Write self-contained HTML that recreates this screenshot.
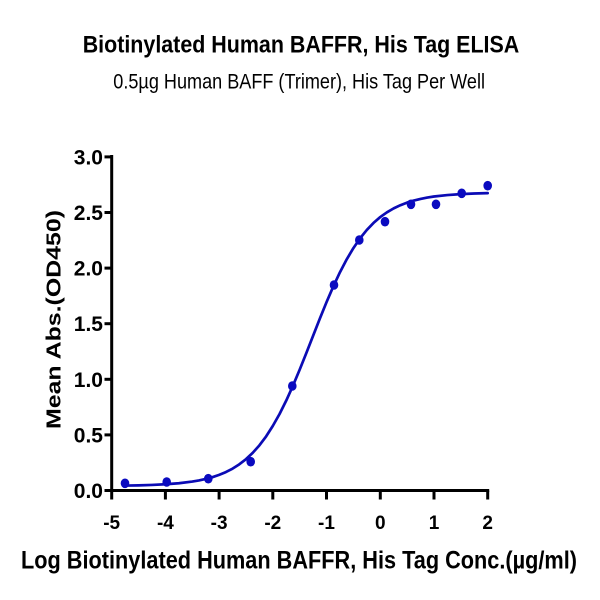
<!DOCTYPE html>
<html>
<head>
<meta charset="utf-8">
<style>
  html,body{margin:0;padding:0;background:#fff;}
  svg{display:block;}
  text{font-family:"Liberation Sans",Arial,sans-serif;fill:#000;}
</style>
</head>
<body>
<svg width="600" height="600" viewBox="0 0 600 600" xmlns="http://www.w3.org/2000/svg">
  <rect width="600" height="600" fill="#fff"/>
  <!-- Titles -->
  <text x="82.7" y="52.3" font-size="24" font-weight="bold" textLength="436.6" lengthAdjust="spacingAndGlyphs">Biotinylated Human BAFFR, His Tag ELISA</text>
  <text x="113.3" y="88.3" font-size="21" textLength="371.7" lengthAdjust="spacingAndGlyphs">0.5µg Human BAFF (Trimer), His Tag Per Well</text>

  <!-- Axes -->
  <g stroke="#000" stroke-width="3" fill="none" stroke-linecap="square">
    <line x1="111.7" y1="156.5" x2="111.7" y2="490.5"/>
    <line x1="111.7" y1="490.5" x2="487.7" y2="490.5"/>
  </g>
  <!-- Y ticks -->
  <g stroke="#000" stroke-width="3">
    <line x1="104.5" y1="156.9" x2="111.7" y2="156.9"/>
    <line x1="104.5" y1="212.5" x2="111.7" y2="212.5"/>
    <line x1="104.5" y1="268.1" x2="111.7" y2="268.1"/>
    <line x1="104.5" y1="323.7" x2="111.7" y2="323.7"/>
    <line x1="104.5" y1="379.3" x2="111.7" y2="379.3"/>
    <line x1="104.5" y1="434.9" x2="111.7" y2="434.9"/>
    <line x1="104.5" y1="490.5" x2="111.7" y2="490.5"/>
  </g>
  <!-- X ticks -->
  <g stroke="#000" stroke-width="3">
    <line x1="111.7" y1="490.5" x2="111.7" y2="499.5"/>
    <line x1="165.4" y1="490.5" x2="165.4" y2="499.5"/>
    <line x1="219.1" y1="490.5" x2="219.1" y2="499.5"/>
    <line x1="272.8" y1="490.5" x2="272.8" y2="499.5"/>
    <line x1="326.5" y1="490.5" x2="326.5" y2="499.5"/>
    <line x1="380.3" y1="490.5" x2="380.3" y2="499.5"/>
    <line x1="434.0" y1="490.5" x2="434.0" y2="499.5"/>
    <line x1="487.7" y1="490.5" x2="487.7" y2="499.5"/>
  </g>
  <!-- Y tick labels -->
  <g font-size="21" font-weight="bold" text-anchor="end">
    <text x="103" y="164.4">3.0</text>
    <text x="103" y="220.0">2.5</text>
    <text x="103" y="275.6">2.0</text>
    <text x="103" y="331.2">1.5</text>
    <text x="103" y="386.8">1.0</text>
    <text x="103" y="442.4">0.5</text>
    <text x="103" y="498.0">0.0</text>
  </g>
  <!-- X tick labels -->
  <g font-size="19" font-weight="bold" text-anchor="middle">
    <text x="111.7" y="529">-5</text>
    <text x="165.4" y="529">-4</text>
    <text x="219.1" y="529">-3</text>
    <text x="272.8" y="529">-2</text>
    <text x="326.5" y="529">-1</text>
    <text x="380.3" y="529">0</text>
    <text x="434.0" y="529">1</text>
    <text x="487.7" y="529">2</text>
  </g>
  <!-- Axis titles -->
  <text x="21" y="568.3" font-size="25" font-weight="bold" textLength="556" lengthAdjust="spacingAndGlyphs">Log Biotinylated Human BAFFR, His Tag Conc.(µg/ml)</text>
  <text transform="translate(60.7,319.5) rotate(-90)" x="0" y="0" font-size="20" font-weight="bold" text-anchor="middle" textLength="219" lengthAdjust="spacingAndGlyphs">Mean Abs.(OD450)</text>

  <!-- Fitted curve -->
  <polyline fill="none" stroke="#0b0bb5" stroke-width="2.7" stroke-linejoin="round" stroke-linecap="round"
    points="125.13,485.6 138.56,485.35 151.98,484.94 165.41,484.28 178.84,483.24 192.27,481.57 198.98,480.41 205.69,478.96 212.41,477.16 219.12,474.89 225.84,472.10 232.55,468.64 239.26,464.37 245.98,459.14 252.69,452.86 259.40,445.35 266.12,436.39 272.83,425.89 279.55,413.99 286.26,400.54 292.97,385.64 299.69,369.63 306.40,352.86 313.11,335.71 319.83,318.64 326.54,302.13 333.25,286.57 339.97,272.21 346.68,259.39 353.40,248.08 360.11,238.28 366.82,229.96 373.54,222.91 380.25,217.06 386.96,212.30 393.68,208.39 400.39,205.20 407.11,202.60 413.82,200.58 420.53,198.93 427.25,197.60 433.96,196.49 447.39,195.04 460.82,194.15 474.24,193.48 487.67,193.15"/>

  <!-- Data points -->
  <g fill="#0a0ac0">
    <ellipse cx="125" cy="483.3" rx="4.3" ry="4.8"/>
    <ellipse cx="166.7" cy="482" rx="4.3" ry="4.8"/>
    <ellipse cx="208.3" cy="478.7" rx="4.3" ry="4.8"/>
    <ellipse cx="250.7" cy="461.7" rx="4.3" ry="4.8"/>
    <ellipse cx="292.3" cy="386" rx="4.3" ry="4.8"/>
    <ellipse cx="334" cy="285" rx="4.3" ry="4.8"/>
    <ellipse cx="359.3" cy="240" rx="4.3" ry="4.8"/>
    <ellipse cx="385" cy="221.7" rx="4.3" ry="4.8"/>
    <ellipse cx="411" cy="204.3" rx="4.3" ry="4.8"/>
    <ellipse cx="436" cy="204.3" rx="4.3" ry="4.8"/>
    <ellipse cx="461.7" cy="193.3" rx="4.3" ry="4.8"/>
    <ellipse cx="487.7" cy="185.7" rx="4.3" ry="4.8"/>
  </g>
</svg>
</body>
</html>
